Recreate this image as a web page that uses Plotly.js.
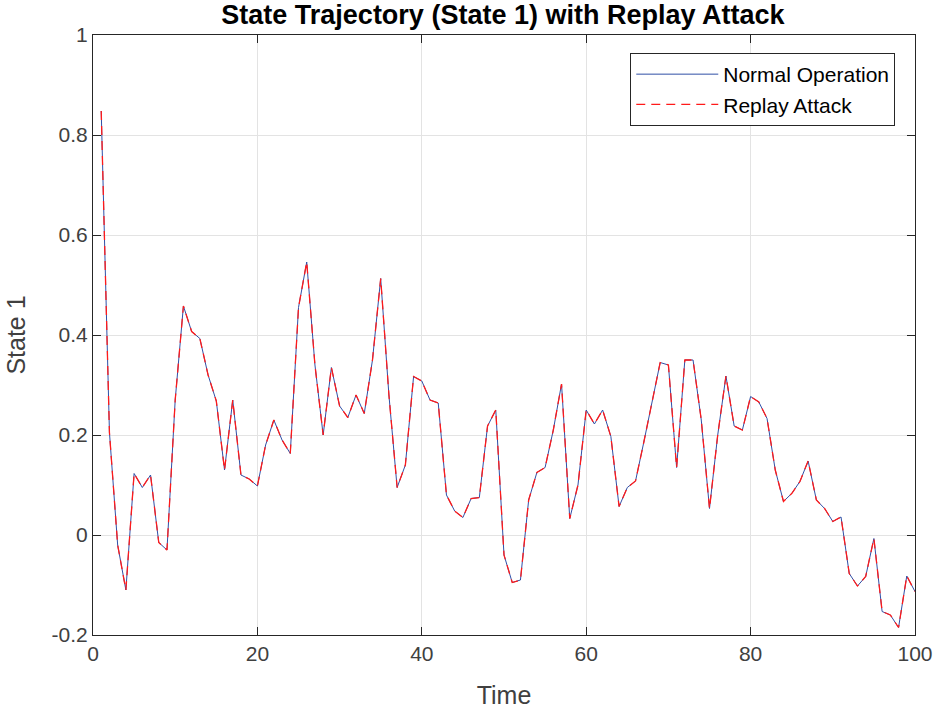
<!DOCTYPE html>
<html>
<head>
<meta charset="utf-8">
<script src="https://cdn.plot.ly/plotly-3.0.1.min.js"></script>
<style>
  body { margin: 0; background: #fff; }
  #chart { width: 940px; height: 710px; }
</style>
</head>
<body>
<div id="chart"></div>
<script>
var time_steps = [];
for (var i = 1; i <= 100; i++) time_steps.push(i);

var normal_state = [
  0.848, 0.205, -0.020, -0.110, 0.123, 0.095, 0.120, -0.015, -0.030, 0.270,
  0.458, 0.407, 0.393, 0.320, 0.268, 0.130, 0.270, 0.120, 0.112, 0.098,
  0.180, 0.230, 0.190, 0.163, 0.455, 0.546, 0.340, 0.200, 0.335, 0.258,
  0.235, 0.280, 0.243, 0.350, 0.513, 0.280, 0.095, 0.140, 0.317, 0.308,
  0.270, 0.264, 0.080, 0.048, 0.035, 0.073, 0.075, 0.218, 0.250, -0.040,
  -0.095, -0.090, 0.070, 0.125, 0.135, 0.210, 0.302, 0.033, 0.100, 0.250,
  0.222, 0.250, 0.197, 0.057, 0.095, 0.108, 0.185, 0.265, 0.345, 0.340,
  0.135, 0.350, 0.350, 0.230, 0.053, 0.200, 0.318, 0.218, 0.210, 0.277,
  0.266, 0.233, 0.130, 0.067, 0.083, 0.107, 0.148, 0.070, 0.053, 0.027,
  0.036, -0.077, -0.102, -0.083, -0.007, -0.153, -0.160, -0.185, -0.082, -0.113
];

// replay attack reproduces the recorded trajectory
var replay_state = normal_state.slice();

var CHART = document.getElementById('chart');

var trace1 = {  x: time_steps,
                y: normal_state,
                mode: 'lines',
                name: 'Normal Operation',
                line: {color: '#2f4fa6', width: 1}
             };

var trace2 = {  x: time_steps,
                y: replay_state,
                mode: 'lines',
                name: 'Replay Attack',
                line: {color: '#ff1a1a', width: 1.3, dash: '9px,6px'}
             };

var FONT = 'Liberation Sans, Arial, sans-serif';

var axisBase = {
  showline: true, mirror: 'ticks', linecolor: '#262626', linewidth: 1,
  ticks: 'inside', ticklen: 8, tickcolor: '#262626',
  showgrid: true, gridcolor: '#e3e3e3', gridwidth: 1,
  zeroline: false,
  tickfont: {family: FONT, size: 21, color: '#404040'}
};

var layout = {
  width: 940, height: 710,
  paper_bgcolor: '#fff', plot_bgcolor: '#fff',
  margin: {l: 93, r: 25, t: 35, b: 75, pad: 0},
  title: {text: '<b>State Trajectory (State 1) with Replay Attack</b>',
          font: {family: FONT, size: 27, color: '#000'},
          x: 0.535, xanchor: 'center', y: 0.979, yanchor: 'middle'},
  xaxis: Object.assign({}, axisBase, {
    range: [0, 100], tickvals: [0, 20, 40, 60, 80, 100],
    title: {text: 'Time', standoff: 22,
            font: {family: FONT, size: 25, color: '#404040'}}
  }),
  yaxis: Object.assign({}, axisBase, {
    range: [-0.2, 1], tickvals: [-0.2, 0, 0.2, 0.4, 0.6, 0.8, 1],
    ticktext: ['-0.2', '0', '0.2', '0.4', '0.6', '0.8', '1'],
    title: {text: 'State 1', standoff: 18,
            font: {family: FONT, size: 25, color: '#404040'}}
  }),
  showlegend: true,
  legend: {x: 0.976, y: 0.97, xanchor: 'right', yanchor: 'top',
           bgcolor: '#fff', bordercolor: '#262626', borderwidth: 1,
           font: {family: FONT, size: 21, color: '#000'},
           tracegroupgap: 0, itemwidth: 82}
};

var config = {'displayModeBar': false, 'responsive': false};

Plotly.newPlot(CHART, [trace1, trace2], layout, config);
</script>
</body>
</html>
